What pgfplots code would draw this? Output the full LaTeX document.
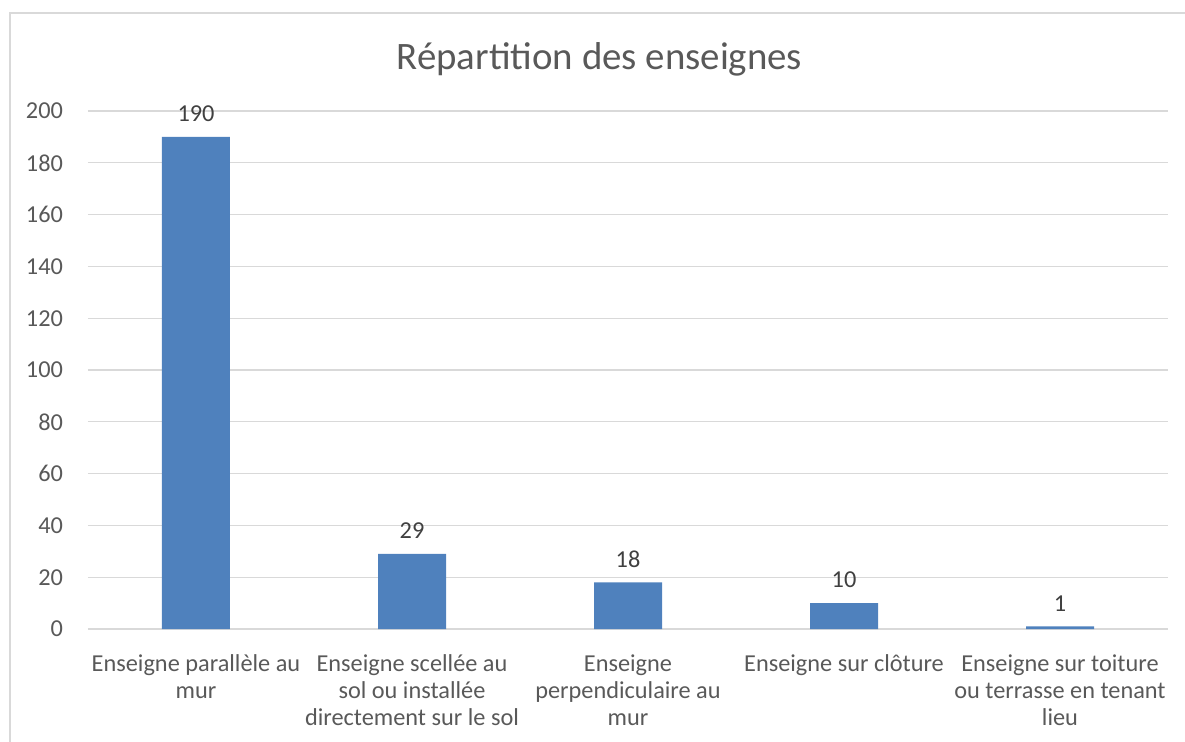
\documentclass[border=0pt]{standalone}
\usepackage{fontspec}
\setmainfont{Carlito}
\usepackage{pgfplots}
\pgfplotsset{compat=1.18}
\definecolor{barblue}{HTML}{4F81BD}
\definecolor{gridgray}{HTML}{D9D9D9}
\definecolor{txtgray}{HTML}{595959}
\definecolor{lblgray}{HTML}{404040}
\begin{document}
\begin{tikzpicture}
\useasboundingbox (-44bp,-56.5bp) rectangle (548.5bp,314.5bp);
\begin{axis}[
  scale only axis,
  width=540bp, height=259bp,
  ybar, bar width=34bp,
  xmin=-0.5, xmax=4.5,
  ymin=0, ymax=200,
  ytick={0,20,...,200},
  xtick={0,1,2,3,4},
  xticklabels={
    {Enseigne parallèle au\\mur},
    {Enseigne scellée au\\sol ou installée\\directement sur le sol},
    {Enseigne\\perpendiculaire au\\mur},
    {Enseigne sur clôture},
    {Enseigne sur toiture\\ou terrasse en tenant\\lieu}},
  xticklabel style={align=center, font=\fontsize{12.2}{13.5}\selectfont, text=txtgray},
  yticklabel style={font=\fontsize{12.2}{13.5}\selectfont, text=txtgray},
  /pgf/number format/assume math mode=true,
  major tick length=0pt,
  ymajorgrids, grid style={gridgray, line width=0.6bp},
  axis line style={draw=none},
  axis x line*=bottom,
  x axis line style={draw=gridgray, line width=0.6bp},
  axis y line*=left,
  xtick pos=bottom,
  xticklabel shift=9.5bp,
  yticklabel shift=9bp,
  nodes near coords,
  nodes near coords style={font=\fontsize{12.2}{13.5}\selectfont, text=lblgray, yshift=4bp},
  clip=false,
]
\addplot[fill=barblue, draw=none] coordinates {
(0,190)
(1,29)
(2,18)
(3,10)
(4,1)
};
\end{axis}
\draw[gridgray, line width=0.8bp] (-39bp,-60bp) -- (-39bp,308bp) -- (560bp,308bp);
\node[text=txtgray, font=\fontsize{19.5}{22}\selectfont] at (255.75bp,285bp) {Répartition des enseignes};
\end{tikzpicture}
\end{document}
